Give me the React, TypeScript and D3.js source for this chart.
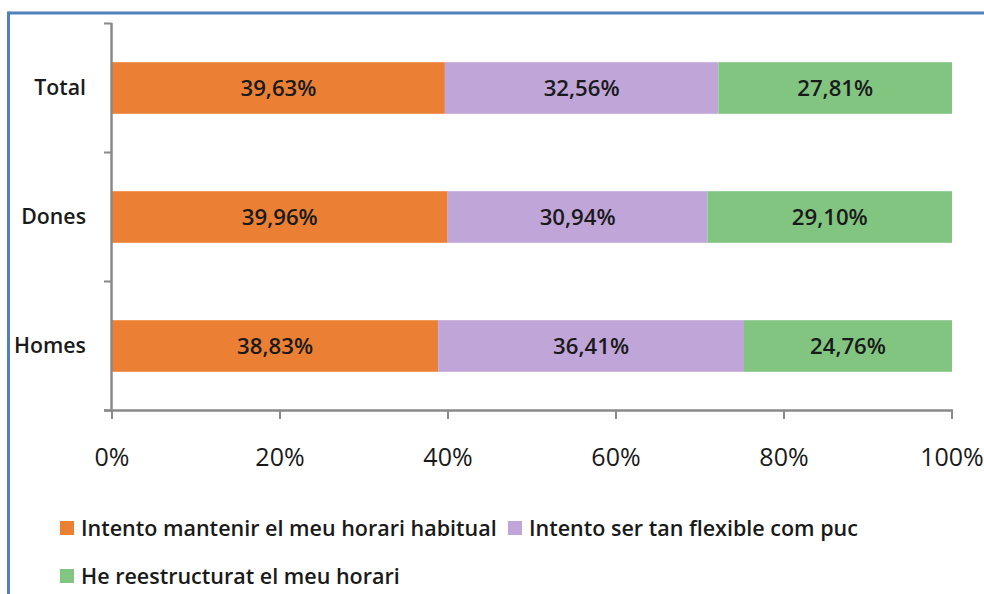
import React from "react";
import * as d3 from "d3";

const categories = ["Total", "Dones", "Homes"];
const seriesNames = [
  "Intento mantenir el meu horari habitual",
  "Intento ser tan flexible com puc",
  "He reestructurat el meu horari",
];
const seriesColors = ["#EB8035", "#C0A5D8", "#81C581"];
const mantenir = [39.63, 39.96, 38.83];
const flexible = [32.56, 30.94, 36.41];
const reestructurat = [27.81, 29.1, 24.76];
const xTicks = [0, 20, 40, 60, 80, 100];

const W = 984;
const H = 594;
const FONT = "'Open Sans', 'DejaVu Sans', sans-serif";
const WEIGHT = 600;

export default function App() {
  const x = d3.scaleLinear().domain([0, 100]).range([112, 952]);
  const y = d3.scaleBand().domain(categories).range([23.5, 410.5]).paddingInner(0.6).paddingOuter(0.3);

  const rows = categories.map((c, i) => ({
    cat: c,
    mantenir: mantenir[i],
    flexible: flexible[i],
    reestructurat: reestructurat[i],
  }));
  const keys = ["mantenir", "flexible", "reestructurat"];
  const stack = d3.stack<any>().keys(keys)(rows);

  const fmt = (v: number) => v.toFixed(2).replace(".", ",") + "%";

  const boundaries = d3.range(categories.length + 1).map((i) => 23.5 + i * (387 / categories.length));

  const legendItems = [
    { name: seriesNames[0], color: seriesColors[0], x: 60, y: 528 },
    { name: seriesNames[1], color: seriesColors[1], x: 508, y: 528 },
    { name: seriesNames[2], color: seriesColors[2], x: 60, y: 576 },
  ];

  return (
    <div style={{ position: "absolute", left: 0, top: 0 }}>
      <svg width={W} height={H} style={{ display: "block", background: "#fff" }}>
        {/* frame */}
        <line x1={8.5} x2={W + 5} y1={13} y2={13} stroke="#4F81BD" strokeWidth={3} />
        <line x1={8.5} x2={8.5} y1={11.5} y2={H + 5} stroke="#4F81BD" strokeWidth={3} />

        {/* bars */}
        {stack.map((s, si) => (
          <g key={si}>
            {s.map((d: any, i: number) => {
              const cat = categories[i];
              const x0 = x(d[0]);
              const x1 = x(d[1]);
              const yy = y(cat) as number;
              return (
                <g key={i}>
                  <rect x={x0} y={yy} width={x1 - x0} height={y.bandwidth()} fill={seriesColors[si]} />
                  <text
                    x={(x0 + x1) / 2}
                    y={yy + y.bandwidth() / 2}
                    dy="0.35em"
                    textAnchor="middle"
                    fontFamily={FONT}
                    fontWeight={WEIGHT}
                    fontSize={22.2}
                    fill="#1a1a1a"
                  >
                    {fmt(d[1] - d[0])}
                  </text>
                </g>
              );
            })}
          </g>
        ))}

        {/* y axis */}
        <line x1={111.5} x2={111.5} y1={23} y2={412} stroke="#898989" strokeWidth={2.5} />
        {boundaries.map((b, i) => (
          <line key={i} x1={104} x2={111.5} y1={b} y2={b} stroke="#898989" strokeWidth={2} />
        ))}
        {categories.map((c) => (
          <text
            key={c}
            x={86}
            y={(y(c) as number) + y.bandwidth() / 2}
            dy="0.35em"
            textAnchor="end"
            fontFamily={FONT}
            fontWeight={WEIGHT}
            fontSize={21.3}
            fill="#1a1a1a"
          >
            {c}
          </text>
        ))}

        {/* x axis */}
        <line x1={104} x2={953} y1={410.5} y2={410.5} stroke="#898989" strokeWidth={2.5} />
        {xTicks.map((t) => (
          <g key={t}>
            <line x1={x(t)} x2={x(t)} y1={410.5} y2={419} stroke="#898989" strokeWidth={2} />
            <text
              x={x(t)}
              y={457}
              dy="0.35em"
              textAnchor="middle"
              fontFamily={FONT}
              fontSize={25}
              fill="#1a1a1a"
            >
              {t + "%"}
            </text>
          </g>
        ))}

        {/* legend */}
        {legendItems.map((l, i) => (
          <g key={i}>
            <rect x={l.x} y={l.y - 7} width={14} height={14} fill={l.color} />
            <text
              x={l.x + 21}
              y={l.y}
              dy="0.35em"
              fontFamily={FONT}
              fontWeight={WEIGHT}
              fontSize={21.5}
              fill="#1a1a1a"
            >
              {l.name}
            </text>
          </g>
        ))}
      </svg>
    </div>
  );
}
